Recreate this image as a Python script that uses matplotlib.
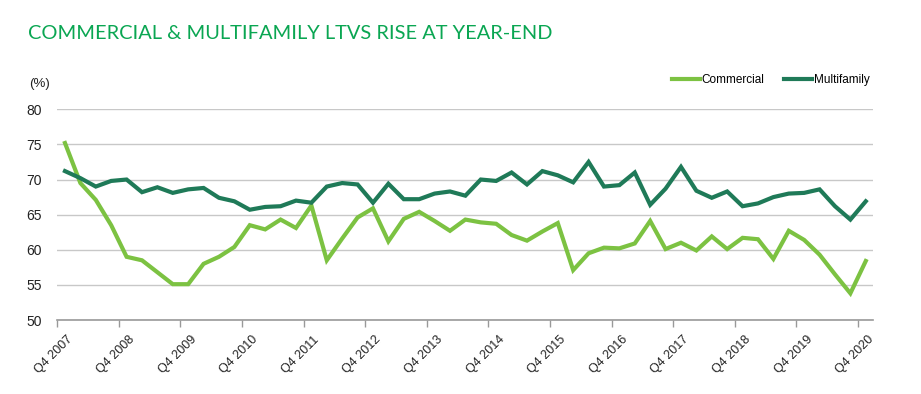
import matplotlib
matplotlib.use("Agg")
import matplotlib.pyplot as plt
import matplotlib.transforms as mtransforms

# Data (quarterly, Q4 2007 .. Q4 2020)
commercial = [75.2, 69.5, 67.1, 63.5, 59.0, 58.5, 56.8, 55.1, 55.1, 58.0,
              59.0, 60.4, 63.5, 62.9, 64.3, 63.1, 66.3, 58.5, 61.6, 64.6,
              65.9, 61.2, 64.4, 65.4, 64.1, 62.7, 64.3, 63.9, 63.7, 62.1,
              61.3, 62.6, 63.8, 57.1, 59.5, 60.3, 60.2, 60.9, 64.1, 60.1,
              61.0, 59.9, 61.9, 60.1, 61.7, 61.5, 58.7, 62.7, 61.4, 59.3,
              56.5, 53.8, 58.4]
multifamily = [71.2, 70.2, 69.0, 69.8, 70.0, 68.2, 68.9, 68.1, 68.6, 68.8,
               67.4, 66.9, 65.7, 66.1, 66.2, 67.0, 66.7, 69.0, 69.5, 69.3,
               66.7, 69.4, 67.2, 67.2, 68.0, 68.3, 67.7, 70.0, 69.8, 71.0,
               69.3, 71.2, 70.6, 69.6, 72.5, 69.0, 69.2, 71.0, 66.4, 68.7,
               71.8, 68.4, 67.4, 68.3, 66.2, 66.6, 67.5, 68.0, 68.1, 68.6,
               66.2, 64.3, 66.9]
tick_labels = [f"Q4 {y}" for y in range(2007, 2021)]
y_ticks = [50, 55, 60, 65, 70, 75, 80]

font = "Liberation Sans"
light = "#7cc242"
dark = "#1f7a58"
txt = "#222222"

fig = plt.figure(figsize=(9.21, 3.94), dpi=100)
ax = fig.add_axes([0.0622, 0.1878, 0.8862, 0.5348])

x = list(range(len(commercial)))
ax.plot(x, commercial, color=light, linewidth=3.0, label="Commercial",
        solid_joinstyle="miter", zorder=3)
ax.plot(x, multifamily, color=dark, linewidth=3.0, label="Multifamily",
        solid_joinstyle="miter", zorder=3)

ax.set_xlim(-0.5, len(commercial) - 0.5)
ax.set_ylim(50, 80)
ax.set_yticks(y_ticks)
ax.set_yticklabels([str(v) for v in y_ticks], fontsize=10, family=font, color=txt)
ax.tick_params(axis="y", length=0, pad=11)
ax.yaxis.grid(True, color="#c8c8c8", linewidth=1.0)
ax.set_axisbelow(True)

ax.set_xticks([-0.5 + 4 * k for k in range(len(tick_labels))])
ax.set_xticklabels(tick_labels, rotation=45, ha="right", va="top",
                   rotation_mode="anchor", fontsize=9, family=font, color=txt)
ax.tick_params(axis="x", length=5, color="#999999", width=1, pad=5)
offset = mtransforms.ScaledTranslation(7 / 72, 0, fig.dpi_scale_trans)
for lab in ax.get_xticklabels():
    lab.set_transform(lab.get_transform() + offset)

for s in ["top", "right", "left"]:
    ax.spines[s].set_visible(False)
ax.spines["bottom"].set_color("#999999")
ax.spines["bottom"].set_linewidth(1.2)

ax.text(-0.035, 1.12, "(%)", transform=ax.transAxes, fontsize=9.5, family=font,
        ha="left", va="center", color=txt)

leg = ax.legend(loc="center right", bbox_to_anchor=(0.995, 1.138), ncol=2, frameon=False,
                prop={"family": font, "size": 8.5}, handlelength=2.4,
                handletextpad=0.15, columnspacing=1.6, borderaxespad=0,
                borderpad=0)

fig.text(28 / 921, 1 - 39 / 394, "COMMERCIAL & MULTIFAMILY LTVS RISE AT YEAR-END",
         fontsize=14.4, color="#0aa652", family="Lato", ha="left", va="baseline")

fig.savefig("out.png", dpi=100)
